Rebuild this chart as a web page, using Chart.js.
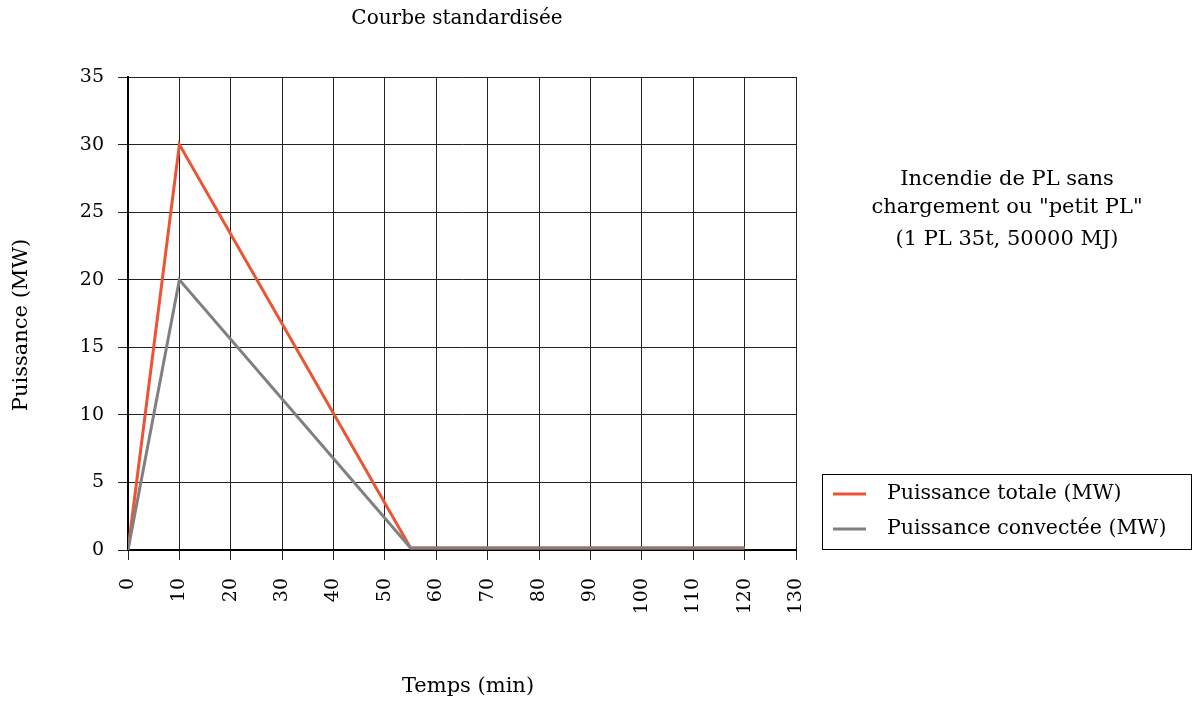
<!DOCTYPE html>
<html><head><meta charset="utf-8">
<script src="https://cdn.jsdelivr.net/npm/chart.js@4.4.0/dist/chart.umd.min.js"></script>
<style>html,body{margin:0;padding:0;background:#fff}#wrap{width:1193px;height:704px}</style>
</head><body><div id="wrap"><canvas id="c" width="1193" height="704"></canvas></div>
<script>
const temps = [0, 10, 55, 120];
const puissanceTotale = [0, 30, 0.15, 0.15];
const puissanceConvectee = [0, 20, 0.15, 0.15];
const seriesNames = ['Puissance totale (MW)', 'Puissance convectée (MW)'];
const titleText = 'Courbe standardisée';
const xTitle = 'Temps (min)';
const yTitle = 'Puissance (MW)';
const noteLines = ['Incendie de PL sans', 'chargement ou "petit PL"', '(1 PL 35t, 50000 MJ)'];
const FONT = '"DejaVu Serif", "Liberation Serif", serif';
const colors = ['#EC5533', '#808080'];

const textPlugin = {
  id: 'texts',
  afterDraw(chart) {
    const ctx = chart.ctx;
    ctx.save();
    ctx.fillStyle = '#000';
    ctx.textBaseline = 'middle';
    ctx.textAlign = 'center';
    ctx.font = '20px ' + FONT;
    ctx.fillText(titleText, 457, 19);
    ctx.font = '21px ' + FONT;
    ctx.fillText(xTitle, 468, 687);
    noteLines.forEach((l, i) => ctx.fillText(l, 1007, [180, 208, 240][i]));
    ctx.save();
    ctx.translate(22, 325);
    ctx.rotate(-Math.PI / 2);
    ctx.fillText(yTitle, 0, 0);
    ctx.restore();
    // legend
    ctx.strokeStyle = '#000';
    ctx.lineWidth = 1;
    ctx.strokeRect(822.5, 474.5, 369, 75);
    ctx.textAlign = 'left';
    ctx.font = '20.5px ' + FONT;
    chart.data.datasets.forEach((ds, i) => {
      const y = 494 + i * 35;
      ctx.strokeStyle = ds.borderColor;
      ctx.lineWidth = 3;
      ctx.beginPath(); ctx.moveTo(833, y); ctx.lineTo(866, y); ctx.stroke();
      ctx.fillStyle = '#000';
      ctx.fillText(ds.label, 887, y);
    });
    ctx.restore();
  }
};

new Chart(document.getElementById('c'), {
  type: 'line',
  data: {
    datasets: [
      { label: seriesNames[0], data: temps.map((t, i) => ({x: t, y: puissanceTotale[i]})), borderColor: colors[0], borderWidth: 3, pointRadius: 0, tension: 0, order: 2 },
      { label: seriesNames[1], data: temps.map((t, i) => ({x: t, y: puissanceConvectee[i]})), borderColor: colors[1], borderWidth: 3, pointRadius: 0, tension: 0, order: 1 }
    ]
  },
  options: {
    responsive: false,
    animation: false,
    layout: { padding: { left: 0, top: 77, right: 397, bottom: 0 } },
    plugins: { legend: { display: false }, title: { display: false }, tooltip: { enabled: false } },
    scales: {
      x: {
        type: 'linear', min: 0, max: 130,
        ticks: { stepSize: 10, maxRotation: 90, minRotation: 90, color: '#000', font: { family: FONT, size: 19 }, padding: 18 },
        grid: { color: '#222', lineWidth: 1, tickLength: 10, drawTicks: true },
        border: { color: '#000', width: 2 },
        afterFit(s) { s.height = 154; }
      },
      y: {
        min: 0, max: 35,
        ticks: { stepSize: 5, color: '#000', font: { family: FONT, size: 19 }, padding: 14 },
        grid: { color: '#222', lineWidth: 1, tickLength: 10 },
        border: { color: '#000', width: 2 },
        afterFit(s) { s.width = 128; }
      }
    }
  },
  plugins: [textPlugin]
});
</script></body></html>
